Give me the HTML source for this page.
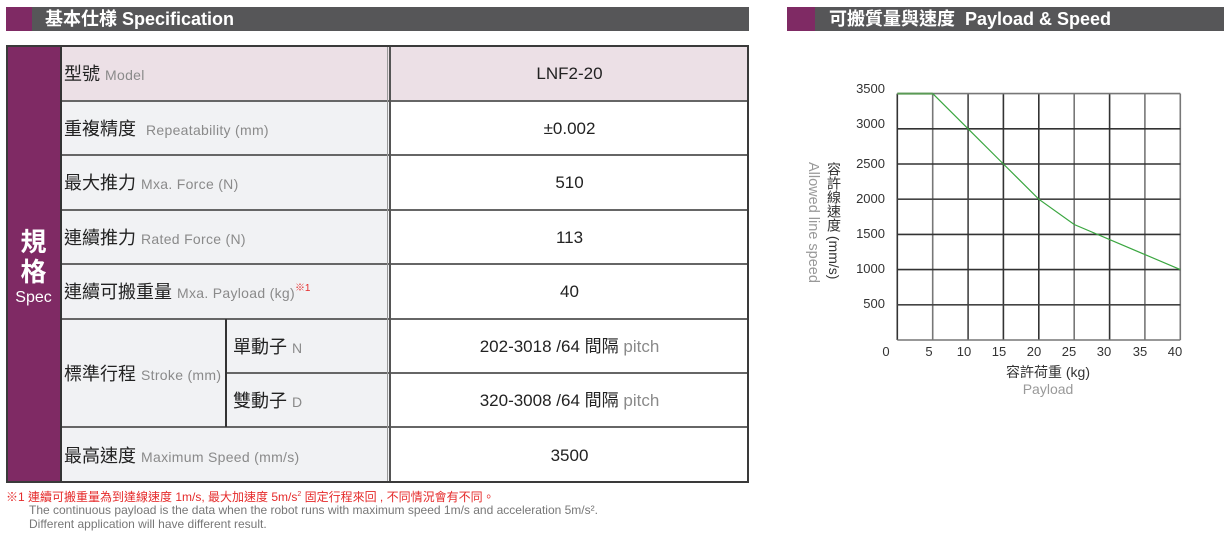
<!DOCTYPE html>
<html><head><meta charset="utf-8">
<style>
*{margin:0;padding:0;box-sizing:border-box}
body{width:1229px;height:534px;background:#fff;position:relative;overflow:hidden;font-family:"Liberation Sans","Noto Sans CJK TC",sans-serif}
.a{position:absolute}
.hdr{position:absolute;top:7px;height:24px;background:#565658}
.sq{position:absolute;top:7px;height:24px;background:#7f2a64}
.ht{position:absolute;top:7px;height:24px;line-height:24px;color:#fff;font-weight:bold;font-size:18px;white-space:nowrap}
.lab{position:absolute;left:64px;font-size:18px;color:#222;white-space:nowrap;line-height:20px;font-family:"Liberation Sans","Noto Sans CJK TC",sans-serif}
.lab span{font-size:14px;color:#8a8a8a;letter-spacing:0.3px}
.val{position:absolute;left:390px;width:359px;text-align:center;font-size:17px;color:#222;line-height:20px;white-space:nowrap}
.val span{color:#8a8a8a}
.hl{position:absolute;height:2px;background:#666}
.vl{position:absolute;width:2px;background:#555}
.fn{position:absolute;white-space:nowrap}
</style></head><body>

<!-- headers -->
<div class="sq" style="left:6px;width:26px"></div>
<div class="hdr" style="left:32px;width:717px"></div>
<div class="ht" style="left:45px">基本仕様 Specification</div>

<div class="sq" style="left:787px;width:28px"></div>
<div class="hdr" style="left:815px;width:409px"></div>
<div class="ht" style="left:829px">可搬質量與速度&nbsp; Payload &amp; Speed</div>

<!-- table backgrounds -->
<div class="a" style="left:6px;top:46px;width:55px;height:436px;background:#7f2a64"></div>
<div class="a" style="left:61px;top:46px;width:329px;height:55px;background:#ece0e6"></div>
<div class="a" style="left:390px;top:46px;width:359px;height:55px;background:#ece0e6"></div>
<div class="a" style="left:61px;top:101px;width:329px;height:381px;background:#f1f2f4"></div>

<!-- lines -->
<div class="hl" style="left:61px;top:100px;width:688px"></div>
<div class="hl" style="left:61px;top:154px;width:688px"></div>
<div class="hl" style="left:61px;top:209px;width:688px"></div>
<div class="hl" style="left:61px;top:263px;width:688px"></div>
<div class="hl" style="left:61px;top:318px;width:688px"></div>
<div class="hl" style="left:226px;top:372px;width:523px"></div>
<div class="hl" style="left:61px;top:426px;width:688px"></div>
<div class="a" style="left:387px;top:46px;width:1px;height:436px;background:#999"></div>
<div class="vl" style="left:389px;top:46px;height:436px;background:#555"></div>
<div class="vl" style="left:225px;top:319px;height:108px;background:#333"></div>
<div class="vl" style="left:60px;top:46px;height:436px;background:#333"></div>
<div class="a" style="left:6px;top:45px;width:743px;height:438px;border:2px solid #3a3a3a"></div>

<!-- spec column -->
<div class="a" style="left:6px;top:226px;width:55px;text-align:center;color:#fff;font-weight:bold;font-size:26px;line-height:30px;font-family:'Noto Sans CJK TC',sans-serif">規<br>格</div>
<div class="a" style="left:6px;top:288px;width:55px;text-align:center;color:#fff;font-size:16px;line-height:20px">Spec</div>

<!-- labels -->
<div class="lab" style="top:64px">型號 <span>Model</span></div>
<div class="lab" style="top:119px">重複精度 &nbsp;<span>Repeatability (mm)</span></div>
<div class="lab" style="top:173px">最大推力 <span>Mxa. Force (N)</span></div>
<div class="lab" style="top:228px">連續推力 <span>Rated Force (N)</span></div>
<div class="lab" style="top:282px">連續可搬重量 <span>Mxa. Payload (kg)</span><span style="color:#e52a2a;font-size:10px;position:relative;top:-7px;letter-spacing:0">※1</span></div>
<div class="lab" style="top:364px">標準行程 <span>Stroke (mm)</span></div>
<div class="lab" style="left:233px;top:337px">單動子 <span>N</span></div>
<div class="lab" style="left:233px;top:391px">雙動子 <span>D</span></div>
<div class="lab" style="top:446px">最高速度 <span>Maximum Speed (mm/s)</span></div>

<!-- values -->
<div class="val" style="top:64px">LNF2-20</div>
<div class="val" style="top:119px">±0.002</div>
<div class="val" style="top:173px">510</div>
<div class="val" style="top:228px">113</div>
<div class="val" style="top:282px">40</div>
<div class="val" style="top:337px">202-3018 /64 間隔 <span>pitch</span></div>
<div class="val" style="top:391px">320-3008 /64 間隔 <span>pitch</span></div>
<div class="val" style="top:446px">3500</div>

<!-- footnote -->
<div class="fn" style="left:6px;top:487px;font-size:12px;color:#e52a2a;line-height:16px">※1 連續可搬重量為到達線速度 1m/s, 最大加速度 5m/s<sup style="font-size:7px">2</sup> 固定行程來回 , 不同情況會有不同。</div>
<div class="fn" style="left:29px;top:503px;font-size:12px;color:#777;line-height:14px">The continuous payload is the data when the robot runs with maximum speed 1m/s and acceleration 5m/s².</div>
<div class="fn" style="left:29px;top:517px;font-size:12px;color:#777;line-height:14px">Different application will have different result.</div>

<!-- chart -->
<svg class="a" style="left:0;top:0" width="1229" height="534" xmlns="http://www.w3.org/2000/svg">
<g stroke-width="1.6" fill="none">
<line x1="897.3" y1="93.6" x2="897.3" y2="340" stroke="#333"/>
<line x1="932.7" y1="93.6" x2="932.7" y2="340" stroke="#777"/>
<line x1="968.1" y1="93.6" x2="968.1" y2="340" stroke="#444"/>
<line x1="1003.4" y1="93.6" x2="1003.4" y2="340" stroke="#333"/>
<line x1="1038.8" y1="93.6" x2="1038.8" y2="340" stroke="#333"/>
<line x1="1074.2" y1="93.6" x2="1074.2" y2="340" stroke="#777"/>
<line x1="1109.6" y1="93.6" x2="1109.6" y2="340" stroke="#333"/>
<line x1="1144.9" y1="93.6" x2="1144.9" y2="340" stroke="#777"/>
<line x1="1180.3" y1="93.6" x2="1180.3" y2="340" stroke="#777"/>
<line x1="897.3" y1="93.6" x2="1180.3" y2="93.6" stroke="#777"/>
<line x1="897.3" y1="128.8" x2="1180.3" y2="128.8" stroke="#333"/>
<line x1="897.3" y1="164" x2="1180.3" y2="164" stroke="#333"/>
<line x1="897.3" y1="199.2" x2="1180.3" y2="199.2" stroke="#444"/>
<line x1="897.3" y1="234.4" x2="1180.3" y2="234.4" stroke="#333"/>
<line x1="897.3" y1="269.6" x2="1180.3" y2="269.6" stroke="#333"/>
<line x1="897.3" y1="304.8" x2="1180.3" y2="304.8" stroke="#444"/>
<line x1="897.3" y1="340" x2="1180.3" y2="340" stroke="#777"/>
</g>
<line x1="897.3" y1="93.6" x2="932.7" y2="93.6" stroke="#5a9a55" stroke-width="2"/>
<polyline points="932.7,93.6 968.1,128.8 1003.4,164 1038.8,199.2 1074.2,224.5 1180.3,269.6" fill="none" stroke="#3aa640" stroke-width="1.2"/>
<g font-family="Liberation Sans, sans-serif" font-size="13" fill="#333" text-anchor="end">
<text x="885" y="93">3500</text>
<text x="885" y="128">3000</text>
<text x="885" y="168">2500</text>
<text x="885" y="203">2000</text>
<text x="885" y="238">1500</text>
<text x="885" y="273">1000</text>
<text x="885" y="308">500</text>
</g>
<g font-family="Liberation Sans, sans-serif" font-size="13" fill="#333" text-anchor="middle">
<text x="886" y="356">0</text>
<text x="929" y="356">5</text>
<text x="964" y="356">10</text>
<text x="999" y="356">15</text>
<text x="1034" y="356">20</text>
<text x="1069" y="356">25</text>
<text x="1104" y="356">30</text>
<text x="1140" y="356">35</text>
<text x="1175" y="356">40</text>
</g>
<text x="1048" y="377" font-family="Liberation Sans, Noto Sans CJK TC, sans-serif" font-size="14" fill="#333" text-anchor="middle">容許荷重 (kg)</text>
<text x="1048" y="394" font-family="Liberation Sans, sans-serif" font-size="14" fill="#999" text-anchor="middle">Payload</text>
</svg>
<div class="a" style="left:825px;top:162px;width:18px;height:126px;writing-mode:vertical-rl;font-size:14px;color:#333;line-height:18px;white-space:nowrap">容許線速度 (mm/s)</div>
<div class="a" style="left:804px;top:162px;width:18px;height:126px;writing-mode:vertical-rl;font-size:14.5px;color:#999;line-height:18px;white-space:nowrap">Allowed line speed</div>

</body></html>
